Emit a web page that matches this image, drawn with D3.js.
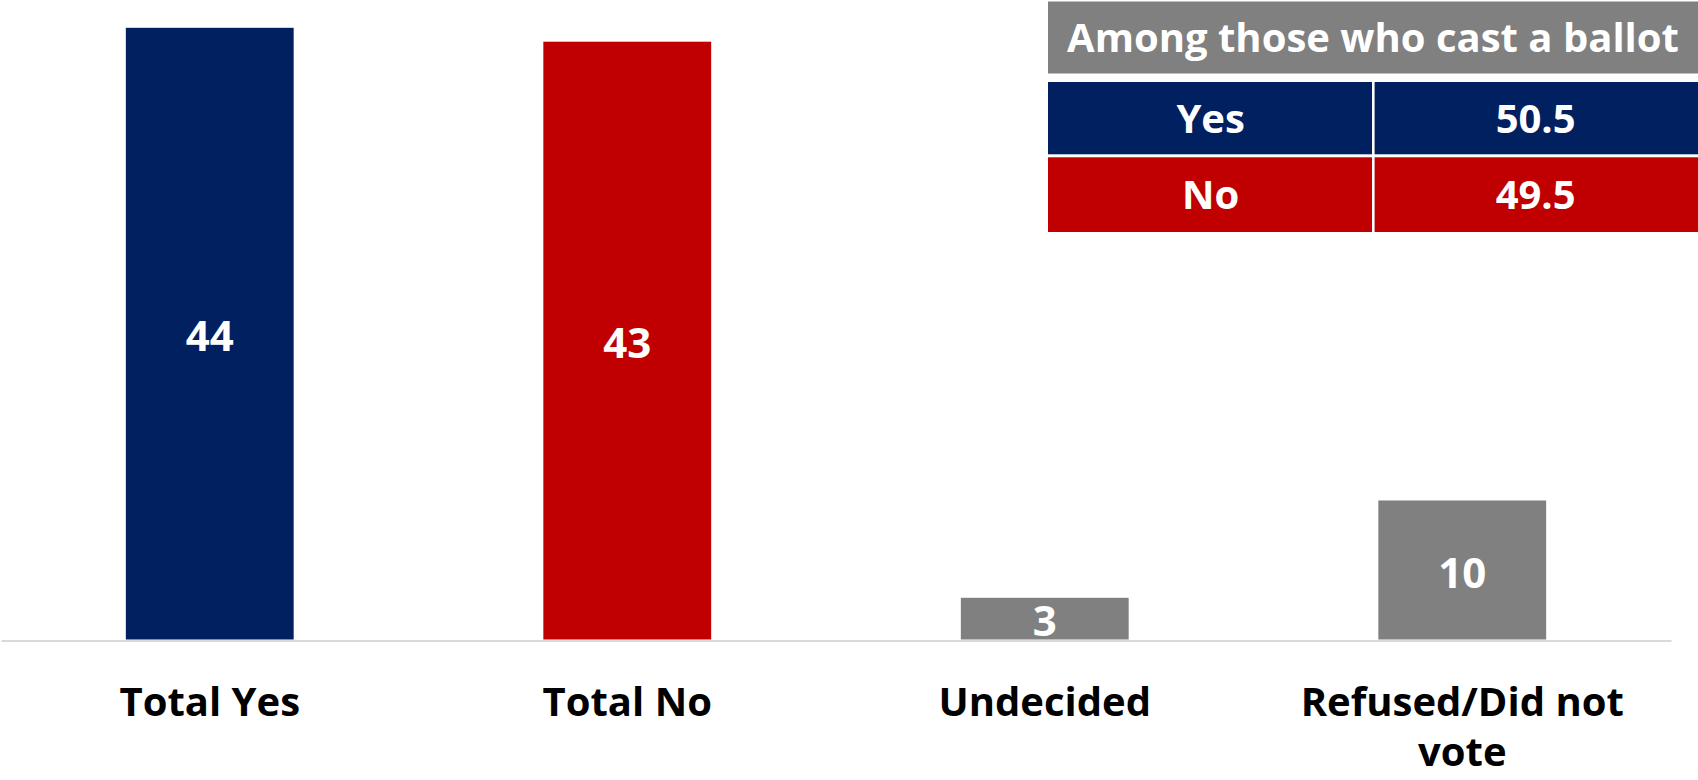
<!DOCTYPE html>
<html>
<head>
<meta charset="utf-8">
<script src="https://cdn.jsdelivr.net/npm/d3@7"></script>
<style>
  html, body { margin: 0; padding: 0; background: #ffffff; }
  svg { display: block; }
  text { font-family: "Open Sans", "Noto Sans", "DejaVu Sans", sans-serif; font-weight: 700; }
</style>
</head>
<body>
<svg id="chart" width="1698" height="780"></svg>
<script>
// Referendum vote shares (%)
const categories = ["Total Yes", "Total No", "Undecided", "Refused/Did not vote"];
const values = [44, 43, 3, 10];
const barColors = ["#002060", "#C00000", "#808080", "#808080"];

// Inset table: result among those who cast a ballot
const tableTitle = "Among those who cast a ballot";
const tableLabels = ["Yes", "No"];
const tableValues = [50.5, 49.5];
const tableColors = ["#002060", "#C00000"];

const W = 1698, H = 780;
const svg = d3.select("#chart");

const baseline = 639.5;
const x = d3.scaleBand()
  .domain(categories)
  .range([1, 1671])
  .paddingInner(0.598)
  .paddingOuter(0.299);
const y = d3.scaleLinear().domain([0, 46]).range([baseline, 0]);

// Bars
const bars = svg.append("g").attr("class", "bars");
bars.selectAll("rect")
  .data(values)
  .join("rect")
  .attr("x", (d, i) => x(categories[i]))
  .attr("y", d => y(d))
  .attr("width", x.bandwidth())
  .attr("height", d => y(0) - y(d))
  .attr("fill", (d, i) => barColors[i]);

// Value labels, centred inside each bar
bars.selectAll("text")
  .data(values)
  .join("text")
  .attr("x", (d, i) => x(categories[i]) + x.bandwidth() / 2)
  .attr("y", d => (y(d) + y(0)) / 2)
  .attr("dy", "0.42em")
  .attr("text-anchor", "middle")
  .attr("fill", "#ffffff")
  .attr("font-size", 42)
  .text(d => d);

// Category axis
const axis = svg.append("g")
  .attr("transform", `translate(0,${baseline + 1})`)
  .call(d3.axisBottom(x).tickSize(0).tickSizeOuter(0));
axis.select(".domain").attr("stroke", "#d9d9d9").attr("stroke-width", 2);
axis.selectAll(".tick text").remove();

function wrapWords(label, maxWidth, size) {
  const probe = svg.append("text").attr("font-size", size).attr("visibility", "hidden");
  const words = label.split(" ");
  const lines = [];
  let line = [];
  for (const w of words) {
    const trial = line.concat(w).join(" ");
    probe.text(trial);
    if (line.length && probe.node().getComputedTextLength() > maxWidth) {
      lines.push(line.join(" "));
      line = [w];
    } else {
      line.push(w);
    }
  }
  if (line.length) lines.push(line.join(" "));
  probe.remove();
  return lines;
}

const labelSize = 40;
axis.selectAll(".tick").each(function(cat) {
  const lines = wrapWords(cat, x.step() - 20, labelSize);
  const t = d3.select(this).append("text")
    .attr("fill", "#000000")
    .attr("font-size", labelSize)
    .attr("text-anchor", "middle")
    .attr("y", 716 - (baseline + 1));
  lines.forEach((ln, i) => {
    t.append("tspan").attr("x", 0).attr("dy", i === 0 ? 0 : 50).text(ln);
  });
});

// Inset table
const tbl = svg.append("g").attr("class", "table");
const tx0 = 1048, tx1 = 1698, tDiv = 1373.3;
const headTop = 1.5, headBottom = 73.5;
const rowTops = [82, 157.3], rowBottoms = [154.3, 232];

tbl.append("rect")
  .attr("x", tx0).attr("y", headTop)
  .attr("width", tx1 - tx0).attr("height", headBottom - headTop)
  .attr("fill", "#808080");
tbl.append("text")
  .attr("x", (tx0 + tx1) / 2).attr("y", (headTop + headBottom) / 2)
  .attr("dy", "0.36em")
  .attr("text-anchor", "middle").attr("fill", "#ffffff").attr("font-size", 40)
  .text(tableTitle);

const rows = tbl.selectAll("g.row")
  .data(tableLabels)
  .join("g").attr("class", "row");
rows.append("rect")
  .attr("x", tx0).attr("y", (d, i) => rowTops[i])
  .attr("width", tDiv - 1.3 - tx0).attr("height", (d, i) => rowBottoms[i] - rowTops[i])
  .attr("fill", (d, i) => tableColors[i]);
rows.append("rect")
  .attr("x", tDiv + 1.3).attr("y", (d, i) => rowTops[i])
  .attr("width", tx1 - tDiv - 1.3).attr("height", (d, i) => rowBottoms[i] - rowTops[i])
  .attr("fill", (d, i) => tableColors[i]);
rows.append("text")
  .attr("x", (tx0 + tDiv) / 2)
  .attr("y", (d, i) => (rowTops[i] + rowBottoms[i]) / 2)
  .attr("dy", "0.36em")
  .attr("text-anchor", "middle").attr("fill", "#ffffff").attr("font-size", 40)
  .text(d => d);
rows.append("text")
  .attr("x", (tDiv + tx1) / 2)
  .attr("y", (d, i) => (rowTops[i] + rowBottoms[i]) / 2)
  .attr("dy", "0.36em")
  .attr("text-anchor", "middle").attr("fill", "#ffffff").attr("font-size", 40)
  .text((d, i) => d3.format(".1f")(tableValues[i]));
</script>
</body>
</html>
